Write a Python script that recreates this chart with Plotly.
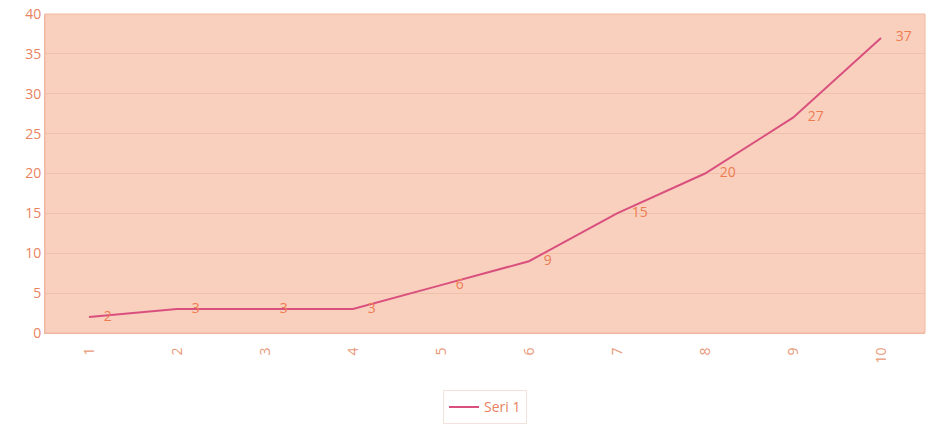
import plotly.graph_objects as go

categories = ["1", "2", "3", "4", "5", "6", "7", "8", "9", "10"]
values = [2, 3, 3, 3, 6, 9, 15, 20, 27, 37]
series_name = "Seri 1"
y_ticks = [0, 5, 10, 15, 20, 25, 30, 35, 40]

txt_color = "#E8825F"
fig = go.Figure()
fig.add_trace(go.Scatter(
    x=categories, y=values, mode="lines", name=series_name,
    line=dict(color="#D9507E", width=2),
))
fig.add_trace(go.Scatter(
    x=categories, y=values, mode="markers+text", showlegend=False, hoverinfo="skip",
    marker=dict(size=22, opacity=0),
    text=[str(v) for v in values], textposition="middle right",
    textfont=dict(color="#EE7C52", size=14, family="Open Sans"),
    cliponaxis=False,
))
fig.update_layout(
    width=929, height=425,
    margin=dict(l=45, r=4, t=14, b=92, autoexpand=False),
    paper_bgcolor="white",
    plot_bgcolor="#F9D0BE",
    font=dict(family="Open Sans", color=txt_color, size=13),
    showlegend=True,
    legend=dict(orientation="h", x=0.5, xanchor="center", y=-0.18, yanchor="top",
                bordercolor="#F3E3DC", borderwidth=1, font=dict(size=14, color=txt_color)),
    xaxis=dict(type="category", range=[-0.5, 9.5], tickangle=-90, showgrid=False,
               showline=True, linecolor="#F0B8A0", ticks="", zeroline=False,
               automargin=False, ticklabelstandoff=8,
               tickfont=dict(size=14, color="#E89878")),
    yaxis=dict(range=[0, 40], tickvals=y_ticks, showgrid=True, gridcolor="#EFC0AA",
               showline=True, linecolor="#F0B8A0", ticks="", zeroline=False,
               automargin=False,
               tickfont=dict(size=14, color=txt_color)),
)
fig.add_shape(type="rect", xref="paper", yref="paper", x0=0, x1=1, y0=0, y1=1,
              line=dict(color="#F0B8A0", width=1))
fig.write_html("out.html")
